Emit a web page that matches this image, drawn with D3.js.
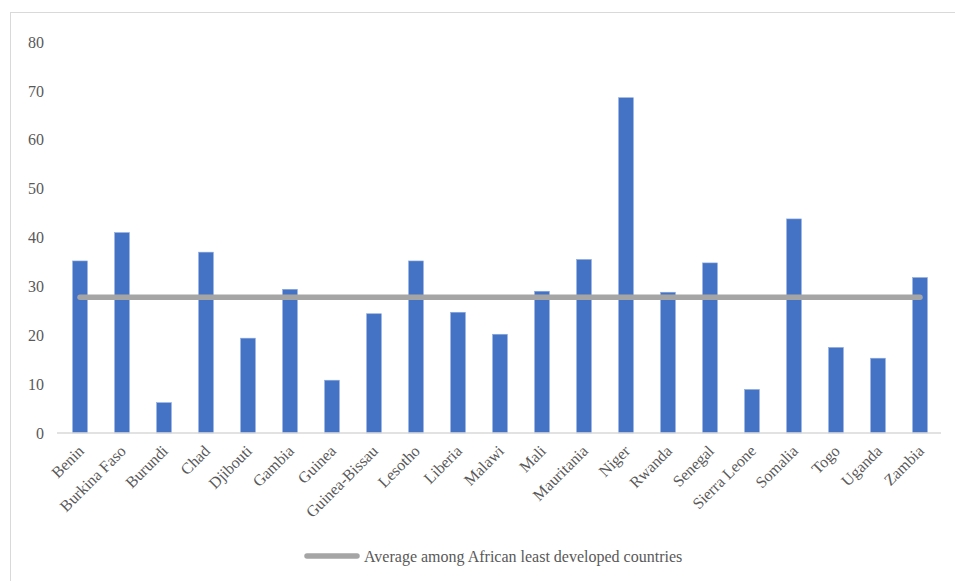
<!DOCTYPE html>
<html>
<head>
<meta charset="utf-8">
<script src="https://cdn.jsdelivr.net/npm/d3@7"></script>
<style>
  html, body { margin: 0; padding: 0; background: #fff; }
  svg { display: block; }
  text { font-family: "Liberation Serif", "Times New Roman", serif; fill: #595959; }
</style>
</head>
<body>
<svg id="chart" width="955" height="581"></svg>
<script>
const countries = ["Benin","Burkina Faso","Burundi","Chad","Djibouti","Gambia","Guinea","Guinea-Bissau","Lesotho","Liberia","Malawi","Mali","Mauritania","Niger","Rwanda","Senegal","Sierra Leone","Somalia","Togo","Uganda","Zambia"];
const values = [35.2, 41.0, 6.2, 37.0, 19.4, 29.4, 10.8, 24.4, 35.2, 24.7, 20.2, 29.0, 35.5, 68.6, 28.8, 34.8, 8.9, 43.8, 17.5, 15.3, 31.8];
const averageValue = 27.8;
const averageLabel = "Average among African least developed countries";
const yTicks = [0, 10, 20, 30, 40, 50, 60, 70, 80];

const svg = d3.select("#chart");
const FS = 16;

// outer chart border
svg.append("rect")
  .attr("x", 10.5).attr("y", 12.5)
  .attr("width", 960).attr("height", 600)
  .attr("fill", "none").attr("stroke", "#D9D9D9").attr("stroke-width", 1);

const plotLeft = 59, plotRight = 941;
const x = d3.scaleBand().domain(countries).range([plotLeft, plotRight]).paddingInner(0.65).paddingOuter(0.325);
const y = d3.scaleLinear().domain([0, 80]).range([433, 42]);

// y axis labels
const yAxis = d3.axisLeft(y).tickValues(yTicks).tickSize(0).tickPadding(0).tickFormat(d3.format("d"));
const gy = svg.append("g").attr("transform", "translate(44,0)").call(yAxis);
gy.select(".domain").remove();
gy.selectAll("text").attr("font-size", FS).attr("fill", "#595959")
  .style("font-family", "'Liberation Serif', serif");

// bars
svg.append("g").selectAll("rect").data(values).join("rect")
  .attr("x", (d, i) => x(countries[i]))
  .attr("y", d => y(d))
  .attr("width", x.bandwidth())
  .attr("height", d => y(0) - y(d))
  .attr("fill", "#4472C4")
  .attr("stroke", "#8EA9DB").attr("stroke-width", 0.6);

// baseline / x axis
const xAxis = d3.axisBottom(x).tickSize(0).tickPadding(0);
const gx = svg.append("g").attr("transform", `translate(0,${y(0)})`).call(xAxis);
gx.select(".domain").attr("stroke", "#D9D9D9").attr("stroke-width", 1.5)
  .attr("d", `M${plotLeft - 2},0H${plotRight}`);
gx.selectAll(".tick text")
  .attr("font-size", FS).attr("fill", "#595959")
  .style("font-family", "'Liberation Serif', serif")
  .attr("text-anchor", "end")
  .attr("dy", 0)
  .attr("transform", "translate(5,19) rotate(-45)");

// average line
const cx = c => x(c) + x.bandwidth() / 2;
svg.append("line")
  .attr("x1", cx(countries[0])).attr("x2", cx(countries[countries.length - 1]))
  .attr("y1", y(averageValue)).attr("y2", y(averageValue))
  .attr("stroke", "#A5A5A5").attr("stroke-width", 5.5).attr("stroke-linecap", "round");

// legend
const lg = svg.append("g").attr("transform", "translate(0,556)");
lg.append("line").attr("x1", 307).attr("x2", 357).attr("y1", 0).attr("y2", 0)
  .attr("stroke", "#A5A5A5").attr("stroke-width", 5.5).attr("stroke-linecap", "round");
lg.append("text").attr("x", 364).attr("y", 5.5).attr("font-size", FS).text(averageLabel);
</script>
</body>
</html>
